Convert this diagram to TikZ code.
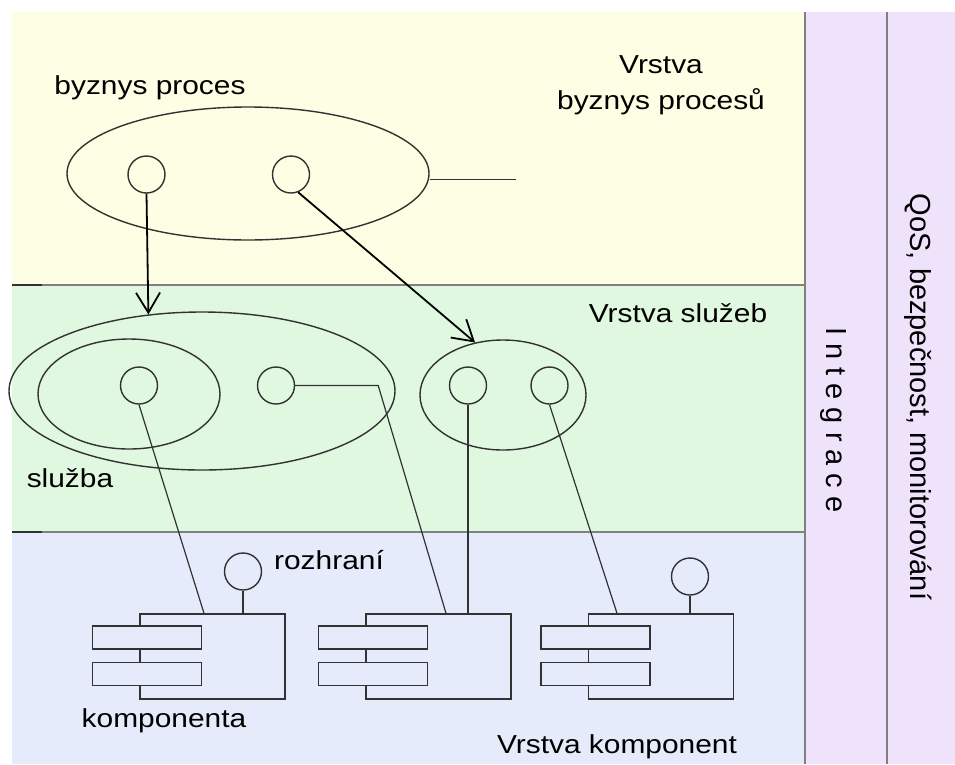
\documentclass[tikz,border=0pt]{standalone}
\usepackage{fontspec}
\setmainfont{Liberation Sans}[FakeStretch=1.15]
\newfontfamily\sidefont{Liberation Sans}
\usetikzlibrary{shapes.geometric,arrows.meta}
\definecolor{procbg}{RGB}{254,254,228}
\definecolor{svcbg}{RGB}{224,247,224}
\definecolor{compbg}{RGB}{230,235,252}
\definecolor{intbg}{RGB}{239,226,251}
\definecolor{sepline}{RGB}{128,128,128}
\definecolor{ink}{RGB}{50,50,50}

\begin{document}
\begin{tikzpicture}[x=1pt, y=-1pt,
    oval/.style={ellipse, draw=ink, line width=1.4pt, inner sep=0pt},
    port/.style={circle, draw=ink, line width=1.4pt, inner sep=0pt, minimum size=37pt},
    compbox/.style={rectangle, draw=ink, line width=1.5pt, inner sep=0pt, minimum width=145pt, minimum height=85pt},
    part/.style={rectangle, draw=ink, fill=compbg, line width=1.5pt, inner sep=0pt, minimum width=109pt, minimum height=23pt},
    wire/.style={draw=ink, line width=1.2pt},
    call/.style={draw=black, line width=1.8pt, -{Straight Barb[length=20pt,width=24pt]}},
    lbl/.style={font=\fontsize{26}{36}\selectfont, inner sep=0pt, align=center},
    side/.style={font=\sidefont\fontsize{29}{34}\selectfont, rotate=-90, inner sep=0pt}]
      \useasboundingbox (0,0) rectangle (955,764);
      \fill[procbg] (12,12) rectangle (805,285);
      \fill[svcbg] (12,285) rectangle (805,532);
      \fill[compbg] (12,532) rectangle (805,764);
      \fill[intbg] (805,12) rectangle (955,764);
      \draw[sepline, line width=2pt] (12,285) -- (805,285) (12,532) -- (805,532)
        (805,12) -- (805,764) (887,12) -- (887,764);
      \draw[ink, line width=2pt] (12,285) -- (42,285) (12,532) -- (42,532);

      \node [oval, minimum width=362pt, minimum height=133pt] (proc) at (248,173.5) {};
      \node [port] (p1) at (146.5,174.5) {};
      \node [port] (p2) at (291,174.5) {};
      \node [oval, minimum width=386pt, minimum height=158pt] (svc) at (202,391) {};
      \node [oval, minimum width=182pt, minimum height=110pt] (svcin) at (129,394) {};
      \node [oval, minimum width=166pt, minimum height=110pt] (svc2) at (503,395) {};
      \node [port] (s1) at (139,385.5) {};
      \node [port] (s2) at (276,385.5) {};
      \node [port] (s3) at (468,385.5) {};
      \node [port] (s4) at (549.5,385.5) {};
      \node [port] (r1) at (243,571.5) {};
      \node [port] (r3) at (690,576.5) {};
      \foreach \n/\x in {1/212.5, 2/438.5, 3/661} {
        \node [compbox] (k\n) at (\x,656.5) {};
        \node [part] (k\n-a) at ([xshift=7.5pt, yshift=19pt]k\n.west) {};
        \node [part] (k\n-b) at ([xshift=7.5pt, yshift=-17.5pt]k\n.west) {};
      }

      \node [lbl] (proctext) at (150,88) {byznys proces};
      \node [lbl] (proclayer) at (661,85) {Vrstva\\byznys procesů};
      \node [lbl] (svclayer) at (678,313) {Vrstva služeb};
      \node [lbl] (svctext) at (70,478) {služba};
      \node [lbl] (rtext) at (329,560) {rozhraní};
      \node [lbl] (ktext) at (164,721) {komponenta};
      \node [lbl] (complayer) at (617,747) {Vrstva komponent};
      \node [side] (integ) at (833,420) {I n t e g r a c e};
      \node [side] (qos) at (918,397) {QoS, bezpečnost, monitorování};

      \draw [call] (p1.south) -- (svc.125);
      \draw [call] (p2.-68) -- (svc2.118);
      \draw [wire] ([yshift=-6pt]proc.east) -- ++(86,0);
      \draw [wire] (s1.south) -- ([xshift=-8.5pt]k1.north);
      \draw [wire] (s2.east) -- ++(83,0) -- ([xshift=7.5pt]k2.north);
      \draw [wire] (s3.south) -- (s3.south |- k2.north);
      \draw [wire] (s4.south) -- ([xshift=-44pt]k3.north);
      \draw [wire] (r1.south) -- (r1.south |- k1.north);
      \draw [wire] (r3.south) -- (r3.south |- k3.north);
  \end{tikzpicture}
\end{document}
